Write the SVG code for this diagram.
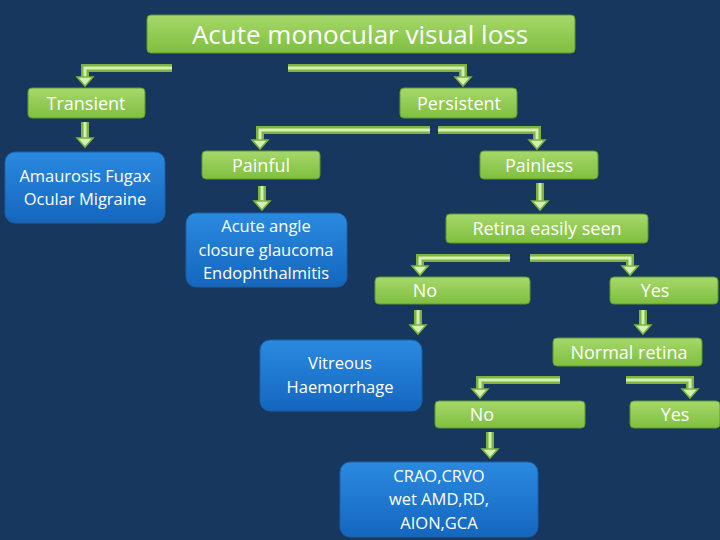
<svg xmlns="http://www.w3.org/2000/svg" width="720" height="540" viewBox="0 0 720 540">
<defs>
<linearGradient id="g" x1="0" y1="0" x2="0" y2="1"><stop offset="0" stop-color="#a6d86a"/><stop offset="1" stop-color="#7fbf3f"/></linearGradient>
<linearGradient id="b" x1="0" y1="0" x2="0" y2="1"><stop offset="0" stop-color="#2a8ae0"/><stop offset="1" stop-color="#1566bd"/></linearGradient>
<style>
.gn{fill:url(#g);stroke:#5f9a2c;stroke-width:1}
.bn{fill:url(#b);stroke:#1a5ea8;stroke-width:1}
text{font-family:"Open Sans","Noto Sans",sans-serif;fill:#fff;text-anchor:middle}
.t{font-size:18px}
.s{font-size:16.5px}
.ao{fill:none;stroke:#7cb342;stroke-width:8}
.ai{fill:none;stroke:#d4efb0;stroke-width:3}
.ah{fill:#d4efb0;stroke:#7cb342;stroke-width:1.5}
</style>
</defs>
<rect width="720" height="540" fill="#17375e"/>
<g id="connectors">
<path class="ao" d="M172 68H85V78M288 68H463V78M85 122V139M430 130H260V141M438 130H537V141M262 186V202M540 183V202M510 258H420V267M530 258H630V267M418 310V326M643 310V326M560 380H480V390M626 380H690V390M490 432V450"/>
<path class="ai" d="M172 68H85V78M288 68H463V78M85 122V139M430 130H260V141M438 130H537V141M262 186V202M540 183V202M510 258H420V267M530 258H630V267M418 310V326M643 310V326M560 380H480V390M626 380H690V390M490 432V450"/>
<g class="ah">
<path d="M77 77H93L85 86Z"/><path d="M455 77H471L463 86Z"/><path d="M77 138H93L85 147Z"/>
<path d="M252 140H268L260 149Z"/><path d="M529 140H545L537 149Z"/><path d="M254 201H270L262 210Z"/>
<path d="M532 201H548L540 210Z"/><path d="M412 266H428L420 275Z"/><path d="M622 266H638L630 275Z"/>
<path d="M410 325H426L418 334Z"/><path d="M635 325H651L643 334Z"/><path d="M472 389H488L480 398Z"/>
<path d="M682 389H698L690 398Z"/><path d="M482 449H498L490 458Z"/>
</g>
</g>
<g id="title"><rect class="gn" x="147" y="15" width="428" height="38" rx="4"/><text x="360" y="44" font-size="26">Acute monocular visual loss</text></g>
<g id="transient"><rect class="gn" x="28" y="88" width="117" height="30" rx="4"/><text class="t" x="86" y="110">Transient</text></g>
<g id="persistent"><rect class="gn" x="400" y="88" width="117" height="30" rx="4"/><text class="t" x="459" y="110">Persistent</text></g>
<g id="amaurosis"><rect class="bn" x="5" y="152" width="160" height="71" rx="10"/><text class="s" x="85" y="182">Amaurosis Fugax</text><text class="s" x="85" y="205">Ocular Migraine</text></g>
<g id="painful"><rect class="gn" x="202" y="151" width="118" height="28" rx="4"/><text class="t" x="261" y="172">Painful</text></g>
<g id="painless"><rect class="gn" x="480" y="151" width="118" height="28" rx="4"/><text class="t" x="539" y="172">Painless</text></g>
<g id="acute"><rect class="bn" x="186" y="213" width="161" height="74" rx="10"/><text class="s" x="266" y="232">Acute angle</text><text class="s" x="266" y="256">closure glaucoma</text><text class="s" x="266" y="279">Endophthalmitis</text></g>
<g id="retina"><rect class="gn" x="446" y="214" width="202" height="29" rx="4"/><text class="t" x="547" y="235">Retina easily seen</text></g>
<g id="no1"><rect class="gn" x="375" y="277" width="155" height="27" rx="4"/><text class="t" x="425" y="297">No</text></g>
<g id="yes1"><rect class="gn" x="610" y="277" width="108" height="27" rx="4"/><text class="t" x="655" y="297">Yes</text></g>
<g id="vitreous"><rect class="bn" x="260" y="340" width="162" height="71" rx="10"/><text class="s" x="340" y="369">Vitreous</text><text class="s" x="340" y="393">Haemorrhage</text></g>
<g id="normal"><rect class="gn" x="553" y="338" width="149" height="28" rx="4"/><text class="t" x="629" y="359">Normal retina</text></g>
<g id="no2"><rect class="gn" x="435" y="401" width="150" height="27" rx="4"/><text class="t" x="482" y="421">No</text></g>
<g id="yes2"><rect class="gn" x="630" y="401" width="90" height="27" rx="4"/><text class="t" x="675" y="421">Yes</text></g>
<g id="crao"><rect class="bn" x="340" y="462" width="198" height="75" rx="10"/><text class="s" x="439" y="482">CRAO,CRVO</text><text class="s" x="439" y="505">wet AMD,RD,</text><text class="s" x="439" y="529">AION,GCA</text></g>
</svg>
